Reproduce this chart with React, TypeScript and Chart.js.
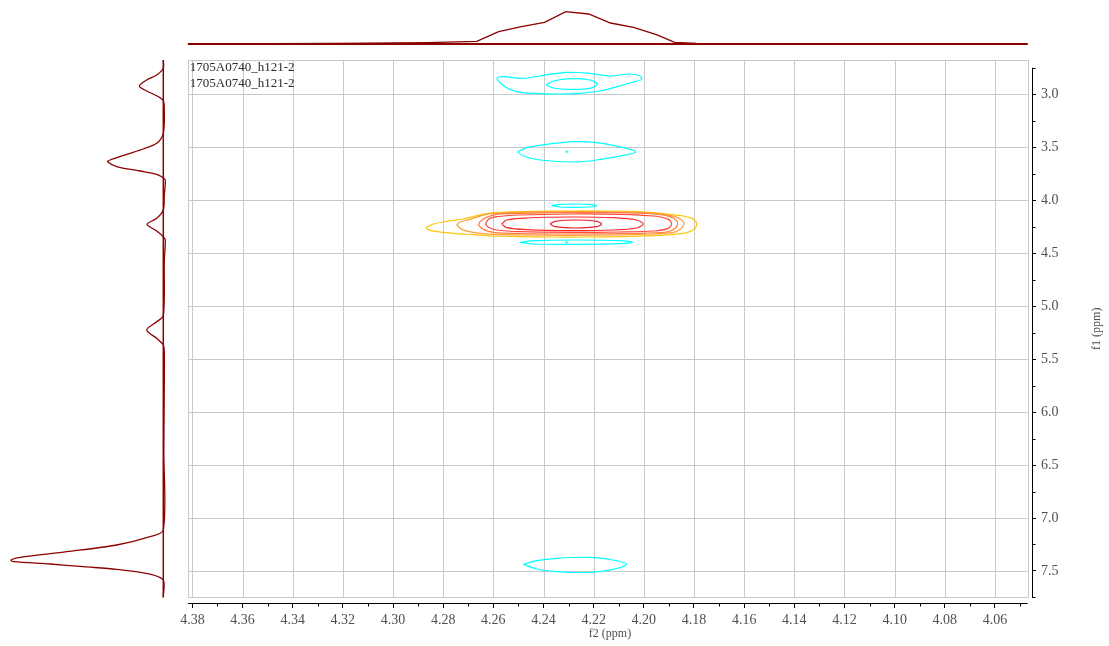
import React, { useEffect, useRef } from 'react';
import { Chart, registerables } from 'chart.js';

Chart.register(...registerables);

// ---- axis ticks (ppm) ----
const f2Ticks = [4.38, 4.36, 4.34, 4.32, 4.3, 4.28, 4.26, 4.24, 4.22, 4.2, 4.18, 4.16, 4.14, 4.12, 4.1, 4.08, 4.06];
const f2MinorTicks = [4.37, 4.35, 4.33, 4.31, 4.29, 4.27, 4.25, 4.23, 4.21, 4.19, 4.17, 4.15, 4.13, 4.11, 4.09, 4.07, 4.05];
const f1Ticks = [3.0, 3.5, 4.0, 4.5, 5.0, 5.5, 6.0, 6.5, 7.0, 7.5];
const f1MinorTicks = [2.75, 3.25, 3.75, 4.25, 4.75, 5.25, 5.75, 6.25, 6.75, 7.25, 7.75];

// ---- plotted ranges (ppm) ----
const f2Frame = [4.3818, 4.047];
const f1Frame = [2.6772, 7.75];
const f2Axis = [4.04523, 4.38175];
const f1Axis = [2.6772, 7.8022];

const spectrumNames = ['1705A0740_h121-2', '1705A0740_h121-2'];

// ---- top projection (f2) ----
const topProjPpm = [4.3818, 4.35, 4.3231, 4.2865, 4.2666, 4.2579, 4.2488, 4.2396, 4.2311, 4.222, 4.2133, 4.2041, 4.195, 4.1877, 4.179, 4.15, 4.1, 4.047];
const topProjInt = [0, 0.3, 0.7, 1.3, 2.7, 12.3, 17.3, 21.7, 32.3, 30, 21, 16.7, 9.3, 1.7, 0.7, 0.3, 0.1, 0];

// ---- left projection (f1) ----
const leftProjPpm = [2.6772, 2.7555, 2.8188, 2.866, 2.9226, 2.9698, 3.0142, 3.0613, 3.1491, 3.369, 3.4634, 3.5172, 3.5672, 3.621, 3.6371, 3.6843, 3.7249, 3.756, 3.7881, 3.8098, 3.9514, 4.093, 4.1713, 4.2279, 4.2912, 4.345, 4.3761, 4.5649, 5.0906, 5.1473, 5.2256, 5.3039, 5.3672, 5.4304, 5.7258, 6.3582, 7.1132, 7.1765, 7.2548, 7.3181, 7.3709, 7.3964, 7.4125, 7.4342, 7.4597, 7.4842, 7.5286, 7.5852, 7.7428];
const leftProjInt = [0, 0, 6.6, 16.6, 24, 16.6, 6.6, 0, -1, 0, 6.6, 20, 36.6, 53.3, 55.6, 46.6, 23.3, 6.6, 0, -2, -1, 0, 6.6, 16.3, 6.6, 0, -2, -1, 0, 6.6, 16.6, 6.6, 0, -1, -1, -0.5, 0, 13.3, 46.6, 96.6, 143.3, 152.3, 150, 113.3, 80, 46.6, 13.3, 0, 0];

// ---- positive contours (f2 x, f1 y) ----
const pos1X = [4.2869, 4.2839, 4.2786, 4.272, 4.266, 4.262, 4.2547, 4.2427, 4.2294, 4.2162, 4.2042, 4.1962, 4.1896, 4.1843, 4.1809, 4.1792, 4.1789, 4.18, 4.1829, 4.1882, 4.1962, 4.2095, 4.2228, 4.2361, 4.2494, 4.26, 4.268, 4.276, 4.2826, 4.2863, 4.2869];
const pos1Y = [4.2566, 4.2251, 4.2, 4.1779, 4.1433, 4.1244, 4.1119, 4.1056, 4.1024, 4.1024, 4.1056, 4.1182, 4.1339, 4.1496, 4.1716, 4.2031, 4.2346, 4.2755, 4.3069, 4.3227, 4.3352, 4.3447, 4.3478, 4.3478, 4.3447, 4.3384, 4.3258, 4.3132, 4.2975, 4.2755, 4.2566];
const pos2X = [4.2746, 4.2733, 4.2693, 4.2647, 4.2607, 4.2494, 4.2294, 4.2095, 4.1989, 4.1922, 4.1876, 4.1849, 4.184, 4.1853, 4.1882, 4.1962, 4.2095, 4.2294, 4.2494, 4.26, 4.268, 4.2726, 4.2746];
const pos2Y = [4.2346, 4.2062, 4.1811, 4.1465, 4.1244, 4.115, 4.1087, 4.1119, 4.1213, 4.1339, 4.1559, 4.1874, 4.2251, 4.2723, 4.3038, 4.3195, 4.3289, 4.3321, 4.3289, 4.3227, 4.3038, 4.2755, 4.2346];
const pos3X = [4.266, 4.2653, 4.2627, 4.2587, 4.2494, 4.2294, 4.2095, 4.1962, 4.1896, 4.1869, 4.1866, 4.188, 4.1909, 4.2029, 4.2294, 4.2494, 4.26, 4.264, 4.266];
const pos3Y = [4.2346, 4.2031, 4.1622, 4.1339, 4.1244, 4.1182, 4.1182, 4.1307, 4.1559, 4.1937, 4.2346, 4.2755, 4.3006, 4.3132, 4.3195, 4.3164, 4.3038, 4.2755, 4.2346];
const pos4X = [4.2631, 4.262, 4.2587, 4.2494, 4.2294, 4.2095, 4.1962, 4.1902, 4.1889, 4.1902, 4.1962, 4.2095, 4.2294, 4.2494, 4.2587, 4.262, 4.2631];
const pos4Y = [4.2251, 4.1811, 4.1559, 4.1402, 4.1307, 4.1339, 4.1496, 4.1811, 4.2251, 4.266, 4.2912, 4.3006, 4.3038, 4.2975, 4.2818, 4.2566, 4.2251];
const pos5X = [4.2567, 4.2547, 4.2467, 4.2294, 4.2122, 4.2029, 4.2002, 4.2029, 4.2122, 4.2294, 4.2467, 4.2547, 4.2567];
const pos5Y = [4.2251, 4.1874, 4.1685, 4.1591, 4.1653, 4.1874, 4.2251, 4.2629, 4.2818, 4.288, 4.2786, 4.2597, 4.2251];
const pos6X = [4.2374, 4.2354, 4.2272, 4.2188, 4.2168, 4.2188, 4.2272, 4.2354, 4.2374];
const pos6Y = [4.2251, 4.2, 4.1874, 4.2, 4.2251, 4.2503, 4.2629, 4.2503, 4.2251];

// ---- negative contours ----
const neg1X = [4.2587, 4.258, 4.256, 4.248, 4.2401, 4.2308, 4.2215, 4.2135, 4.2055, 4.2015, 4.2009, 4.2042, 4.2108, 4.2175, 4.2255, 4.2348, 4.2487, 4.2534, 4.2567, 4.2587];
const neg1Y = [2.8534, 2.8377, 2.8345, 2.8502, 2.8219, 2.7936, 2.8031, 2.8282, 2.8093, 2.8282, 2.8597, 2.8849, 2.9289, 2.9698, 2.9918, 2.9981, 2.9855, 2.9541, 2.9069, 2.8534];
const neg2X = [4.239, 4.2361, 4.2294, 4.2215, 4.2185, 4.2215, 4.2294, 4.2361, 4.239];
const neg2Y = [2.9132, 2.8754, 2.8534, 2.866, 2.9069, 2.9446, 2.9541, 2.9415, 2.9132];
const neg3X = [4.2504, 4.2467, 4.2414, 4.2281, 4.2188, 4.2082, 4.2031, 4.2082, 4.2188, 4.2281, 4.2414, 4.2481, 4.2504];
const neg3Y = [3.5455, 3.5047, 3.4826, 3.448, 3.4575, 3.5047, 3.5455, 3.577, 3.621, 3.6399, 3.621, 3.5833, 3.5455];
const neg4X = [4.2368, 4.2334, 4.2278, 4.2221, 4.2188, 4.2221, 4.2278, 4.2334, 4.2368];
const neg4Y = [4.0521, 4.0395, 4.0364, 4.0395, 4.0521, 4.0647, 4.0678, 4.0647, 4.0521];
const neg5X = [4.2494, 4.2441, 4.2268, 4.2095, 4.2045, 4.2095, 4.2268, 4.2441, 4.2494];
const neg5Y = [4.3982, 4.3824, 4.3761, 4.3824, 4.3982, 4.4107, 4.417, 4.4139, 4.3982];
const neg6X = [4.248, 4.2427, 4.2348, 4.2215, 4.2122, 4.2068, 4.2122, 4.2215, 4.2348, 4.2427, 4.248];
const neg6Y = [7.4373, 7.4027, 7.3807, 7.3712, 7.3964, 7.4373, 7.4845, 7.5128, 7.5065, 7.4814, 7.4373];
const negDotX = [4.2308, 4.2308];
const negDotY = [3.5424, 4.3982];

const posColors = ['#FFC20E', '#FFA030', '#FF7A3C', '#FF4A3A', '#FF2A2A', '#E8202A'];
const negColor = '#00FFFF';
const projColor = '#8B0000';
const gridColor = '#c8c8c8';
const textColor = '#505050';

const pts = (xs: number[], ys: number[]) => xs.map((x, i) => ({ x, y: ys[i] }));

const nmrPlugin = {
  id: 'nmrFrame',
  beforeDatasetsDraw(chart: any) {
    const { ctx } = chart;
    const xs = chart.scales.x;
    const ys = chart.scales.y;
    const l = xs.getPixelForValue(f2Frame[0]);
    const r = xs.getPixelForValue(f2Frame[1]);
    const t = ys.getPixelForValue(f1Frame[0]);
    const b = ys.getPixelForValue(f1Frame[1]);
    ctx.save();
    ctx.strokeStyle = gridColor;
    ctx.lineWidth = 1;
    ctx.beginPath();
    f2Ticks.forEach((v) => {
      const p = Math.round(xs.getPixelForValue(v)) + 0.5;
      ctx.moveTo(p, t);
      ctx.lineTo(p, b);
    });
    f1Ticks.forEach((v) => {
      const p = Math.round(ys.getPixelForValue(v)) + 0.5;
      ctx.moveTo(l, p);
      ctx.lineTo(r, p);
    });
    ctx.stroke();
    ctx.strokeRect(Math.round(l) + 0.5, Math.round(t) + 0.5, Math.round(r - l), Math.round(b - t));
    ctx.restore();
  },
  afterDraw(chart: any) {
    const { ctx, chartArea } = chart;
    const xs = chart.scales.x;
    const ys = chart.scales.y;
    const l = xs.getPixelForValue(f2Frame[0]);
    const r = xs.getPixelForValue(f2Frame[1]);
    const t = ys.getPixelForValue(f1Frame[0]);
    const b = ys.getPixelForValue(f1Frame[1]);
    const axY = Math.round(chartArea.bottom) + 0.5;
    const axX = Math.round(chartArea.right) + 0.5;
    ctx.save();
    ctx.strokeStyle = '#000';
    ctx.lineWidth = 1;
    ctx.beginPath();
    ctx.moveTo(l, axY);
    ctx.lineTo(r, axY);
    ctx.moveTo(axX, ys.getPixelForValue(f1MinorTicks[0]));
    ctx.lineTo(axX, ys.getPixelForValue(f1MinorTicks[f1MinorTicks.length - 1]) + 0.5);
    f2MinorTicks.forEach((v) => {
      const p = Math.round(xs.getPixelForValue(v)) + 0.5;
      ctx.moveTo(p, axY);
      ctx.lineTo(p, axY + 3);
    });
    f1MinorTicks.forEach((v) => {
      const p = Math.round(ys.getPixelForValue(v)) + 0.5;
      ctx.moveTo(axX, p);
      ctx.lineTo(axX + 3, p);
    });
    ctx.stroke();

    ctx.fillStyle = '#2a2a2a';
    ctx.font = '13px "Liberation Serif", serif';
    ctx.textAlign = 'left';
    ctx.textBaseline = 'middle';
    spectrumNames.forEach((name, i) => {
      ctx.fillText(name, l + 2, t + 8 + i * 16);
    });

    ctx.fillStyle = textColor;
    ctx.font = '12px "Liberation Serif", serif';
    ctx.translate(1097, (t + b) / 2);
    ctx.rotate(-Math.PI / 2);
    ctx.textAlign = 'center';
    ctx.fillText('f1 (ppm)', 0, 0);
    ctx.restore();
  },
};

export default function App() {
  const ref = useRef<HTMLCanvasElement>(null);

  useEffect(() => {
    Chart.defaults.font.family = '"Liberation Serif", serif';
    const contour = (xs: number[], ys: number[], color: string) => ({
      data: pts(xs, ys),
      showLine: true,
      borderColor: color,
      backgroundColor: color,
      borderWidth: 1.2,
      pointRadius: 0,
      tension: 0.3,
      xAxisID: 'x',
      yAxisID: 'y',
    });

    const datasets: any[] = [
      contour(pos6X, pos6Y, posColors[5]),
      contour(pos5X, pos5Y, posColors[4]),
      contour(pos4X, pos4Y, posColors[3]),
      contour(pos3X, pos3Y, posColors[2]),
      contour(pos2X, pos2Y, posColors[1]),
      contour(pos1X, pos1Y, posColors[0]),
      contour(neg1X, neg1Y, negColor),
      contour(neg2X, neg2Y, negColor),
      contour(neg3X, neg3Y, negColor),
      contour(neg4X, neg4Y, negColor),
      contour(neg5X, neg5Y, negColor),
      contour(neg6X, neg6Y, negColor),
      {
        data: pts(negDotX, negDotY),
        showLine: false,
        pointRadius: 1.2,
        borderWidth: 0,
        backgroundColor: negColor,
        xAxisID: 'x',
        yAxisID: 'y',
      },
      {
        data: pts(topProjPpm, topProjInt),
        showLine: true,
        borderColor: projColor,
        borderWidth: 1.3,
        pointRadius: 0,
        tension: 0,
        clip: false,
        xAxisID: 'x',
        yAxisID: 'yTop',
      },
      {
        data: pts(f2Frame, [0, 0]),
        showLine: true,
        borderColor: projColor,
        borderWidth: 2,
        pointRadius: 0,
        clip: false,
        xAxisID: 'x',
        yAxisID: 'yTop',
      },
      {
        data: leftProjPpm.map((y, i) => ({ x: leftProjInt[i], y })),
        showLine: true,
        borderColor: projColor,
        borderWidth: 1.3,
        pointRadius: 0,
        tension: 0.3,
        clip: false,
        xAxisID: 'xLeft',
        yAxisID: 'y',
      },
      {
        data: [{ x: 0, y: f1Frame[0] }, { x: 0, y: f1Frame[1] }],
        showLine: true,
        borderColor: projColor,
        borderWidth: 1.5,
        pointRadius: 0,
        clip: false,
        xAxisID: 'xLeft',
        yAxisID: 'y',
      },
    ];

    const chart = new Chart(ref.current as HTMLCanvasElement, {
      type: 'scatter',
      data: { datasets },
      options: {
        responsive: false,
        animation: false,
        events: [],
        layout: { padding: { left: 188, top: 60, right: 0, bottom: 0 } },
        elements: { line: { capBezierPoints: false } as any },
        plugins: { legend: { display: false }, tooltip: { enabled: false } },
        scales: {
          x: {
            type: 'linear',
            axis: 'x',
            position: 'bottom',
            reverse: true,
            min: f2Axis[0],
            max: f2Axis[1],
            afterBuildTicks: (s: any) => {
              s.ticks = f2Ticks.map((v) => ({ value: v }));
            },
            afterFit: (s: any) => {
              s.height = 43;
            },
            ticks: {
              autoSkip: false,
              maxRotation: 0,
              padding: 4,
              color: textColor,
              font: { size: 14 },
              callback: (v: any) => Number(v).toFixed(2),
            },
            grid: { drawOnChartArea: false, drawTicks: true, tickLength: 5, tickColor: '#000' },
            border: { display: false },
            title: {
              display: true,
              text: 'f2 (ppm)',
              color: textColor,
              font: { size: 12 },
              padding: { top: 0, bottom: 5 },
            },
          },
          y: {
            type: 'linear',
            axis: 'y',
            position: 'right',
            reverse: true,
            min: f1Axis[0],
            max: f1Axis[1],
            afterBuildTicks: (s: any) => {
              s.ticks = f1Ticks.map((v) => ({ value: v }));
            },
            afterFit: (s: any) => {
              s.width = 77;
            },
            ticks: {
              autoSkip: false,
              padding: 5,
              color: textColor,
              font: { size: 14 },
              callback: (v: any) => Number(v).toFixed(1),
            },
            grid: { drawOnChartArea: false, drawTicks: true, tickLength: 4, tickColor: '#000' },
            border: { display: false },
          },
          yTop: {
            type: 'linear',
            axis: 'y',
            display: false,
            min: -559,
            max: -16,
          },
          xLeft: {
            type: 'linear',
            axis: 'x',
            display: false,
            reverse: true,
            min: -868.7,
            max: -24.7,
          },
        },
      } as any,
      plugins: [nmrPlugin],
    });
    return () => chart.destroy();
  }, []);

  return (
    <div style={{ position: 'absolute', left: 0, top: 0, width: 1109, height: 646, background: '#fff' }}>
      <canvas ref={ref} width={1109} height={646} style={{ display: 'block', width: 1109, height: 646 }} />
    </div>
  );
}
